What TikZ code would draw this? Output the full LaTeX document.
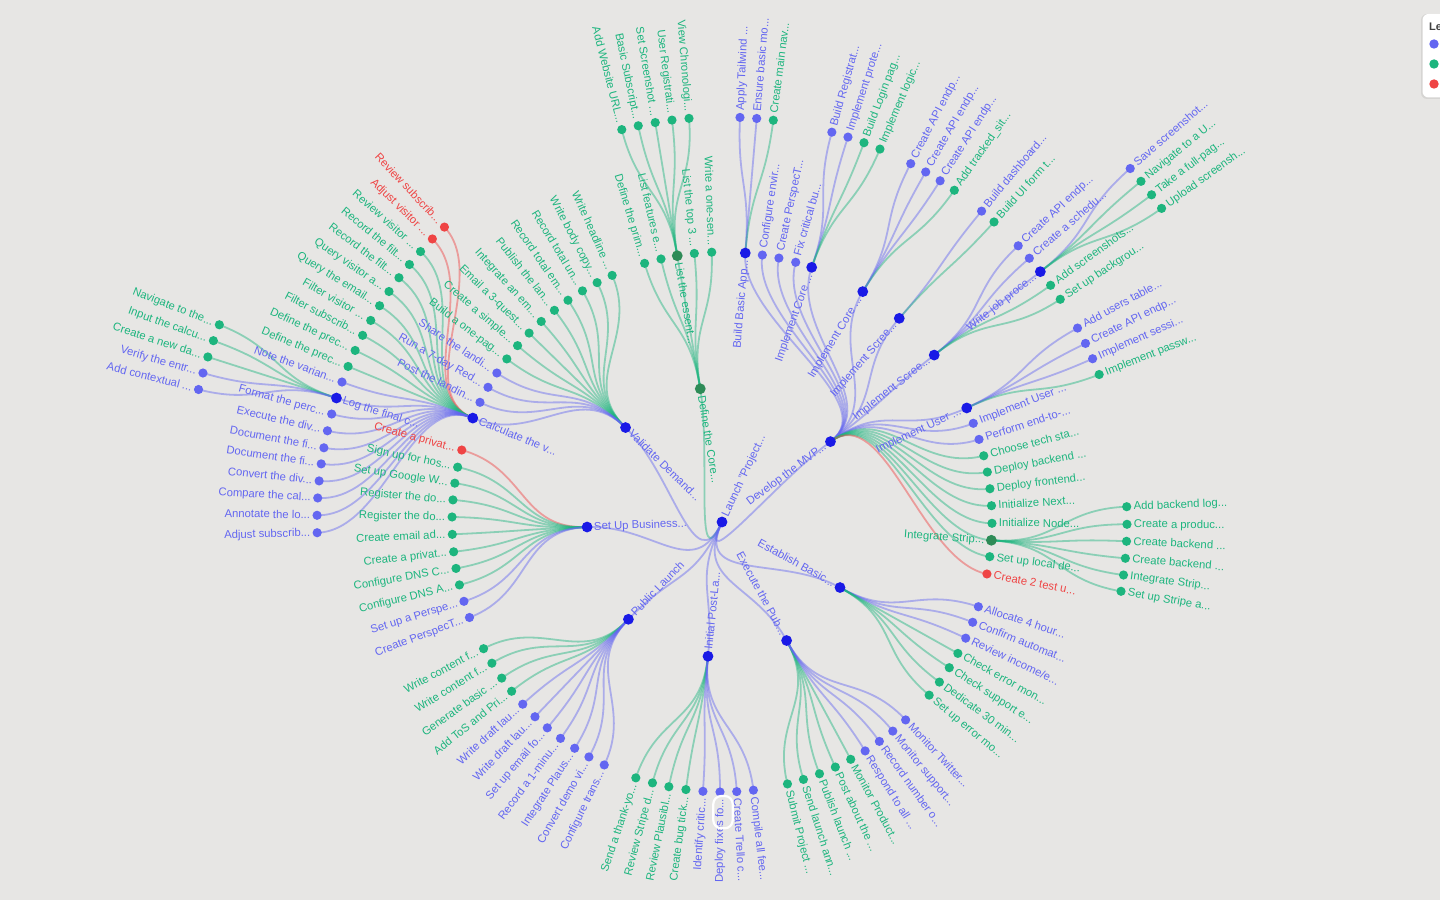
\documentclass[tikz,border=0pt]{standalone}
\usepackage{fontspec}
\setmainfont{Liberation Sans}
\definecolor{bg}{HTML}{E7E6E4}
\definecolor{cB}{HTML}{6366F1}
\definecolor{cG}{HTML}{1DB57E}
\definecolor{cR}{HTML}{EF4444}
\definecolor{cU}{HTML}{1A1AE6}
\definecolor{cV}{HTML}{2E8B57}
\makeatletter
\newcommand\TNlink[7]{%
  \pgfmathsetmacro\tn@a{atan2(522-(#3),(#2)-722)}%
  \pgfmathsetmacro\tn@r{135*(#4)}%
  \expandafter\xdef\csname tnA@#1\endcsname{\tn@a}%
  \expandafter\xdef\csname tnD@#1\endcsname{#4}%
  \coordinate (#1) at (\tn@a:\tn@r);%
  \expandafter\let\expandafter\tn@pa\csname tnA@#7\endcsname
  \expandafter\let\expandafter\tn@pd\csname tnD@#7\endcsname
  \pgfmathsetmacro\tn@m{135*((#4)+\tn@pd)/2}%
  \draw[lk#5] (#7) .. controls (\tn@pa:\tn@m) and (\tn@a:\tn@m) .. (#1);%
}
\newcommand\TNdot[7]{\fill[dot#5] (#1) circle;}
\newcommand\TNlab[7]{%
  \expandafter\let\expandafter\tn@a\csname tnA@#1\endcsname
  \pgfmathtruncatemacro\tn@rh{((\tn@a>-90)&&(\tn@a<=90))?1:0}%
  \pgfmathsetmacro\tn@b{\tn@a+180}%
  \ifcsname tnInt@#5\endcsname
    \pgfmathsetmacro\tn@r{135*(#4)-7}%
    \ifnum\tn@rh=1
      \node[lab#5,anchor=east,rotate=\tn@a] (#1l) at (\tn@a:\tn@r) {#6};%
    \else
      \node[lab#5,anchor=west,rotate=\tn@b] (#1l) at (\tn@a:\tn@r) {#6};%
    \fi
  \else
    \pgfmathsetmacro\tn@r{135*(#4)+7}%
    \ifnum\tn@rh=1
      \node[lab#5,anchor=west,rotate=\tn@a] (#1l) at (\tn@a:\tn@r) {#6};%
    \else
      \node[lab#5,anchor=east,rotate=\tn@b] (#1l) at (\tn@a:\tn@r) {#6};%
    \fi
  \fi
}
\expandafter\def\csname tnInt@U\endcsname{}
\expandafter\def\csname tnInt@V\endcsname{}
\makeatother
\newcommand\treedata{%
\TN{vd}{626}{428}{1}{U}{Validate Demand...}{root}
\TN{dc}{700.3}{389}{1}{V}{Define the Core...}{root}
\TN{mvp}{831.7}{440.7}{1}{U}{Develop the MVP...}{root}
\TN{eb}{840.3}{587.7}{1}{U}{Establish Basic...}{root}
\TN{ep}{786.7}{640.7}{1}{U}{Execute the Pub...}{root}
\TN{ip}{708}{656}{1}{U}{Initial Post-La...}{root}
\TN{pl}{628.7}{619}{1}{U}{Public Launch}{root}
\TN{sb}{588}{527}{1}{U}{Set Up Business...}{root}
% Validate Demand
\TN{v1}{612.3}{275.7}{2}{G}{Write headline ...}{vd}
\TN{v2}{597.3}{283}{2}{G}{Write body copy...}{vd}
\TN{v3}{582.7}{291.3}{2}{G}{Record total un...}{vd}
\TN{v4}{568.3}{300.7}{2}{G}{Record total em...}{vd}
\TN{v5}{554.7}{310.7}{2}{G}{Publish the lan...}{vd}
\TN{v6}{541.7}{322}{2}{G}{Integrate an em...}{vd}
\TN{v7}{529.3}{333.3}{2}{G}{Email a 3-quest...}{vd}
\TN{v8}{518}{346}{2}{G}{Create a simple...}{vd}
\TN{v9}{507.3}{359.3}{2}{G}{Build a one-pag...}{vd}
\TN{v10}{497.3}{373.3}{2}{B}{Share the landi...}{vd}
\TN{v11}{488.7}{387.7}{2}{B}{Run a 7-day Red...}{vd}
\TN{v12}{480.7}{402.7}{2}{B}{Post the landin...}{vd}
\TN{cv}{473.3}{418.3}{2}{U}{Calculate the v...}{vd}
\TN{c1}{445}{227.7}{3}{R}{Review subscrib...}{cv}
\TN{c2}{432.7}{239.3}{3}{R}{Adjust visitor ...}{cv}
\TN{c3}{421}{252}{3}{G}{Review visitor ...}{cv}
\TN{c4}{410}{265}{3}{G}{Record the filt...}{cv}
\TN{c5}{399.3}{278}{3}{G}{Record the filt...}{cv}
\TN{c6}{389.7}{292}{3}{G}{Query visitor a...}{cv}
\TN{c7}{380}{306}{3}{G}{Query the email...}{cv}
\TN{c8}{371.7}{321}{3}{G}{Filter visitor ...}{cv}
\TN{c9}{363.3}{335.7}{3}{G}{Filter subscrib...}{cv}
\TN{c10}{355.7}{350.7}{3}{G}{Define the prec...}{cv}
\TN{c11}{348.7}{366.7}{3}{G}{Define the prec...}{cv}
\TN{c12}{342.7}{382.3}{3}{B}{Note the varian...}{cv}
\TN{lf}{337.3}{398.3}{3}{U}{Log the final c...}{cv}
\TN{c13}{332.7}{414.3}{3}{B}{Format the perc...}{cv}
\TN{c14}{328.3}{431}{3}{B}{Execute the div...}{cv}
\TN{c15}{325}{448}{3}{B}{Document the fi...}{cv}
\TN{c16}{322}{464}{3}{B}{Document the fi...}{cv}
\TN{c17}{320}{481}{3}{B}{Convert the div...}{cv}
\TN{c18}{318.3}{498}{3}{B}{Compare the cal...}{cv}
\TN{c19}{317.7}{515.3}{3}{B}{Annotate the lo...}{cv}
\TN{c20}{318.3}{532.7}{3}{B}{Adjust subscrib...}{cv}
\TN{l1}{220.7}{325.3}{4}{G}{Navigate to the...}{lf}
\TN{l2}{214.3}{341}{4}{G}{Input the calcu...}{lf}
\TN{l3}{209}{357.3}{4}{G}{Create a new da...}{lf}
\TN{l4}{204}{373.3}{4}{B}{Verify the entr...}{lf}
\TN{l5}{199.3}{389.7}{4}{B}{Add contextual ...}{lf}
% Set Up Business
\TN{s1}{462.7}{450.3}{2}{R}{Create a privat...}{sb}
\TN{s2}{458.3}{467.3}{2}{G}{Sign up for hos...}{sb}
\TN{s3}{455.7}{483.3}{2}{G}{Set up Google W...}{sb}
\TN{s4}{454}{500}{2}{G}{Register the do...}{sb}
\TN{s5}{453}{517}{2}{G}{Register the do...}{sb}
\TN{s6}{453.3}{534.3}{2}{G}{Create email ad...}{sb}
\TN{s7}{454.7}{551.7}{2}{G}{Create a privat...}{sb}
\TN{s8}{456.7}{568.3}{2}{G}{Configure DNS C...}{sb}
\TN{s9}{460.3}{584.7}{2}{G}{Configure DNS A...}{sb}
\TN{s10}{465}{601}{2}{B}{Set up a Perspe...}{sb}
\TN{s11}{470}{617.3}{2}{B}{Create PerspecT...}{sb}
% Public Launch
\TN{p1}{484.3}{648.3}{2}{G}{Write content f...}{pl}
\TN{p2}{492.7}{662.7}{2}{G}{Write content f...}{pl}
\TN{p3}{502.3}{677.7}{2}{G}{Generate basic ...}{pl}
\TN{p4}{512.3}{690.7}{2}{G}{Add ToS and Pri...}{pl}
\TN{p5}{523.3}{703.7}{2}{B}{Write draft lau...}{pl}
\TN{p6}{535.7}{716}{2}{B}{Write draft lau...}{pl}
\TN{p7}{548}{727}{2}{B}{Set up email fo...}{pl}
\TN{p8}{561}{737.7}{2}{B}{Record a 1-minu...}{pl}
\TN{p9}{575.3}{747.3}{2}{B}{Integrate Plaus...}{pl}
\TN{p10}{589.3}{756.3}{2}{B}{Convert demo vi...}{pl}
\TN{p11}{604.7}{764}{2}{B}{Configure trans...}{pl}
% Initial Post-Launch
\TN{i1}{636}{777.3}{2}{G}{Send a thank-yo...}{ip}
\TN{i2}{652.7}{782}{2}{G}{Review Stripe d...}{ip}
\TN{i3}{669}{786}{2}{G}{Review Plausibl...}{ip}
\TN{i4}{686}{789}{2}{G}{Create bug tick...}{ip}
\TN{i5}{703}{790.3}{2}{B}{Identify critic...}{ip}
\TN{i6}{720}{790.7}{2}{B}{Deploy fixes fo...}{ip}
\TN{i7}{736.7}{790.7}{2}{B}{Create Trello c...}{ip}
\TN{i8}{753.3}{789.3}{2}{B}{Compile all fee...}{ip}
% Execute the Public Launch
\TN{e1}{787.3}{783.3}{2}{G}{Submit Project ...}{ep}
\TN{e2}{803.3}{779}{2}{G}{Send launch ann...}{ep}
\TN{e3}{819.3}{773.3}{2}{G}{Publish launch ...}{ep}
\TN{e4}{835.3}{767}{2}{G}{Post about the ...}{ep}
\TN{e5}{850.7}{759.3}{2}{G}{Monitor Product...}{ep}
\TN{e6}{865}{750.7}{2}{B}{Respond to all ...}{ep}
\TN{e7}{879.3}{741.3}{2}{B}{Record number o...}{ep}
\TN{e8}{892.7}{731}{2}{B}{Monitor support...}{ep}
\TN{e9}{905.7}{720}{2}{B}{Monitor Twitter...}{ep}
% Establish Basic
\TN{b1}{978.3}{606.7}{2}{B}{Allocate 4 hour...}{eb}
\TN{b2}{972.7}{622.3}{2}{B}{Confirm automat...}{eb}
\TN{b3}{966}{638.3}{2}{B}{Review income/e...}{eb}
\TN{b4}{957.7}{653.3}{2}{G}{Check error mon...}{eb}
\TN{b5}{949.3}{667.7}{2}{G}{Check support e...}{eb}
\TN{b6}{939.3}{682}{2}{G}{Dedicate 30 min...}{eb}
\TN{b7}{929}{695}{2}{G}{Set up error mo...}{eb}
% Develop the MVP
\TN{bb}{745.3}{253}{2}{U}{Build Basic App...}{mvp}
\TN{m1}{762.3}{255.3}{2}{B}{Configure envir...}{mvp}
\TN{m2}{779}{257.7}{2}{B}{Create PerspecT...}{mvp}
\TN{m3}{795.7}{262.3}{2}{B}{Fix critical bu...}{mvp}
\TN{ica}{811.7}{267.3}{2}{U}{Implement Core ...}{mvp}
\TN{icb}{862.7}{291.7}{2}{U}{Implement Core ...}{mvp}
\TN{isa}{899.3}{318.3}{2}{U}{Implement Scree...}{mvp}
\TN{isb}{934.3}{355}{2}{U}{Implement Scree...}{mvp}
\TN{iu}{967.3}{407.7}{2}{U}{Implement User ...}{mvp}
\TN{m4}{973.3}{423.3}{2}{B}{Implement User ...}{mvp}
\TN{m5}{979.3}{439.3}{2}{B}{Perform end-to-...}{mvp}
\TN{m6}{984}{455.7}{2}{G}{Choose tech sta...}{mvp}
\TN{m7}{987.7}{472}{2}{G}{Deploy backend ...}{mvp}
\TN{m8}{990.3}{488.7}{2}{G}{Deploy frontend...}{mvp}
\TN{m9}{991.7}{505.7}{2}{G}{Initialize Next...}{mvp}
\TN{m10}{992.3}{523.3}{2}{G}{Initialize Node...}{mvp}
\TN{ist}{991.7}{540.3}{2}{V}{Integrate Strip...}{mvp}
\TN{m11}{990}{556.7}{2}{G}{Set up local de...}{mvp}
\TN{m12}{987}{574}{2}{R}{Create 2 test u...}{mvp}
\TN{bb1}{740}{117.3}{3}{B}{Apply Tailwind ...}{bb}
\TN{bb2}{756.7}{118.7}{3}{B}{Ensure basic mo...}{bb}
\TN{bb3}{773.3}{120.3}{3}{G}{Create main nav...}{bb}
\TN{a1}{831.7}{132.7}{3}{B}{Build Registrat...}{ica}
\TN{a2}{848}{137}{3}{B}{Implement prote...}{ica}
\TN{a3}{864}{142.7}{3}{G}{Build Login pag...}{ica}
\TN{a4}{880}{149}{3}{G}{Implement logic...}{ica}
\TN{d1}{910.7}{163.7}{3}{B}{Create API endp...}{icb}
\TN{d2}{925.7}{172}{3}{B}{Create API endp...}{icb}
\TN{d3}{940}{181}{3}{B}{Create API endp...}{icb}
\TN{d4}{954.3}{190.3}{3}{G}{Add tracked\_sit...}{icb}
\TN{f1}{981.7}{211}{3}{B}{Build dashboard...}{isa}
\TN{f2}{994}{222}{3}{G}{Build UI form t...}{isa}
\TN{g1}{1018.3}{245.7}{3}{B}{Create API endp...}{isb}
\TN{g2}{1029.3}{258.3}{3}{B}{Create a schedu...}{isb}
\TN{wj}{1040.3}{271.7}{3}{U}{Write job proce...}{isb}
\TN{g3}{1051}{285}{3}{G}{Add screenshots...}{isb}
\TN{g4}{1060.7}{299}{3}{G}{Set up backgrou...}{isb}
\TN{w1}{1130}{168.7}{4}{B}{Save screenshot...}{wj}
\TN{w2}{1141}{181.3}{4}{G}{Navigate to a U...}{wj}
\TN{w3}{1151.3}{195}{4}{G}{Take a full-pag...}{wj}
\TN{w4}{1161.7}{208.3}{4}{G}{Upload screensh...}{wj}
\TN{u1}{1077.7}{328}{3}{B}{Add users table...}{iu}
\TN{u2}{1085.7}{343.3}{3}{B}{Create API endp...}{iu}
\TN{u3}{1092.7}{358.7}{3}{B}{Implement sessi...}{iu}
\TN{u4}{1099.7}{374.3}{3}{G}{Implement passw...}{iu}
\TN{t1}{1126.7}{506.7}{3}{G}{Add backend log...}{ist}
\TN{t2}{1127}{524.3}{3}{G}{Create a produc...}{ist}
\TN{t3}{1126.7}{541.3}{3}{G}{Create backend ...}{ist}
\TN{t4}{1125.3}{558.3}{3}{G}{Create backend ...}{ist}
\TN{t5}{1123.3}{575}{3}{G}{Integrate Strip...}{ist}
\TN{t6}{1121}{591.3}{3}{G}{Set up Stripe a...}{ist}
% Define the Core
\TN{q1}{644.7}{263.7}{2}{G}{Define the prim...}{dc}
\TN{q2}{661}{259}{2}{G}{List features e...}{dc}
\TN{le}{677.3}{256}{2}{V}{List the essent...}{dc}
\TN{q3}{694.3}{253.3}{2}{G}{List the top 3 ...}{dc}
\TN{q4}{711.7}{252.3}{2}{G}{Write a one-sen...}{dc}
\TN{x1}{621.7}{129.3}{3}{G}{Add Website URL...}{le}
\TN{x2}{638.3}{126}{3}{G}{Basic Subscript...}{le}
\TN{x3}{655.3}{123}{3}{G}{Set Screenshot ...}{le}
\TN{x4}{672}{120.3}{3}{G}{User Registrati...}{le}
\TN{x5}{689}{118.3}{3}{G}{View Chronologi...}{le}
}
\begin{document}
\begin{tikzpicture}[x=1pt,y=1pt,
  lkbase/.style={line width=1.8pt,opacity=0.45},
  lkB/.style={lkbase,draw=cB}, lkU/.style={lkbase,draw=cB},
  lkG/.style={lkbase,draw=cG}, lkV/.style={lkbase,draw=cG},
  lkR/.style={lkbase,draw=cR},
  dotB/.style={fill=cB,radius=4.6}, dotG/.style={fill=cG,radius=4.6},
  dotR/.style={fill=cR,radius=4.6}, dotU/.style={fill=cU,radius=5.4},
  dotV/.style={fill=cV,radius=5.4},
  lab/.style={font=\fontsize{11.3}{13}\selectfont,inner sep=0pt,outer sep=0pt,text height=7pt,text depth=0pt},
  labB/.style={lab,text=cB}, labU/.style={lab,text=cB},
  labG/.style={lab,text=cG}, labV/.style={lab,text=cG},
  labR/.style={lab,text=cR}]
\useasboundingbox (0,0) rectangle (1440,900);
\clip (0,0) rectangle (1440,900);
\fill[bg] (0,0) rectangle (1440,900);
\begin{scope}[shift={(722,378)}]
\coordinate (root) at (0,0);
\expandafter\xdef\csname tnA@root\endcsname{245}
\expandafter\xdef\csname tnD@root\endcsname{0}
\let\TN\TNlink \treedata
\let\TN\TNdot \treedata
\fill[dotU] (root) circle;
\let\TN\TNlab \treedata
\node[labU,anchor=west,rotate=65] (rootl) at (65:7) {Launch "Project...};
\end{scope}
% highlight ring
\draw[white,line width=2.2pt,rounded corners=8pt] (713.3,71.7) rectangle (732.7,104);
% legend (cut off at the right edge)
\fill[black,opacity=0.07,rounded corners=6pt] (1421,801) rectangle (1470,886);
\fill[white,rounded corners=6pt] (1422.5,802.5) rectangle (1470,886);
\node[anchor=base west,inner sep=0pt,font=\fontsize{11}{13}\selectfont\bfseries,text=black!75] (legt) at (1429,869) {Legend};
\fill[cB] (1434,856) circle[radius=4.7];
\fill[cG] (1434,836) circle[radius=4.7];
\fill[cR] (1434,816) circle[radius=4.7];
\end{tikzpicture}
\end{document}
